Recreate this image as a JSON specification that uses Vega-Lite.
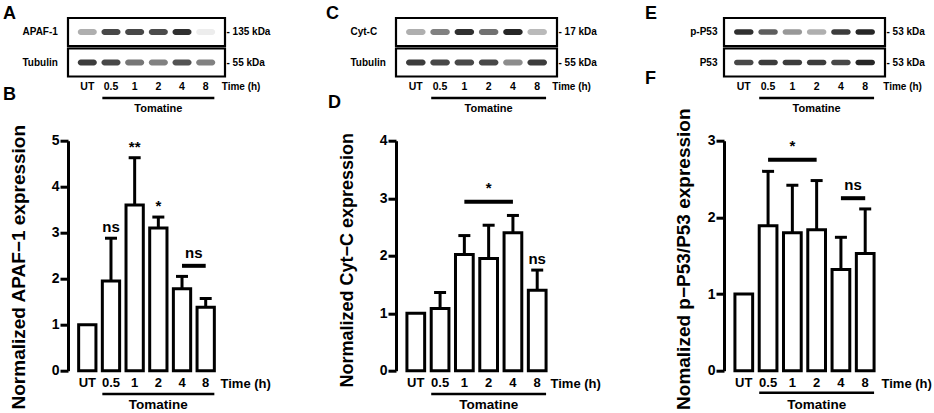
{
  "$schema": "https://vega.github.io/schema/vega-lite/v6.json",
  "padding": {"left": 3, "top": 4, "right": 0, "bottom": 0},
  "bounds": "flush",
  "spacing": 328,
  "config": {
    "view": {"stroke": null},
    "font": "Liberation Sans",
    "text": {"fontWeight": "bold", "color": "black"},
    "title": {"color": "black", "fontWeight": "bold", "fontSize": 18},
    "axis": {"labelColor": "black", "titleColor": "black", "domainColor": "black", "tickColor": "black", "labelFontWeight": "bold", "titleFontWeight": "bold", "grid": false}
  },
  "datasets": {
    "bars": [
      {"panel": "B", "time": "UT", "mean": 1.0},
      {"panel": "B", "time": "0.5", "mean": 1.95, "upper": 2.88},
      {"panel": "B", "time": "1", "mean": 3.6, "upper": 4.63},
      {"panel": "B", "time": "2", "mean": 3.1, "upper": 3.34},
      {"panel": "B", "time": "4", "mean": 1.78, "upper": 2.05},
      {"panel": "B", "time": "8", "mean": 1.38, "upper": 1.57},
      {"panel": "D", "time": "UT", "mean": 1.0},
      {"panel": "D", "time": "0.5", "mean": 1.08, "upper": 1.36},
      {"panel": "D", "time": "1", "mean": 2.02, "upper": 2.35},
      {"panel": "D", "time": "2", "mean": 1.95, "upper": 2.53},
      {"panel": "D", "time": "4", "mean": 2.4, "upper": 2.7},
      {"panel": "D", "time": "8", "mean": 1.4, "upper": 1.75},
      {"panel": "F", "time": "UT", "mean": 1.0},
      {"panel": "F", "time": "0.5", "mean": 1.89, "upper": 2.6},
      {"panel": "F", "time": "1", "mean": 1.8, "upper": 2.42},
      {"panel": "F", "time": "2", "mean": 1.84, "upper": 2.48},
      {"panel": "F", "time": "4", "mean": 1.32, "upper": 1.74},
      {"panel": "F", "time": "8", "mean": 1.53, "upper": 2.11}
    ],
    "marks": [
      {"panel": "B", "time": "0.5", "level": 3.13, "label": "ns"},
      {"panel": "B", "time": "1", "level": 4.87, "label": "**"},
      {"panel": "B", "time": "2", "level": 3.58, "label": "*"},
      {"panel": "D", "time": "8", "level": 1.95, "label": "ns"}
    ],
    "brackets": [
      {"panel": "B", "from": "4", "to": "8", "center": "4", "span": 2, "level": 2.28, "labelLevel": 2.55, "label": "ns"},
      {"panel": "D", "from": "1", "to": "4", "center": "2", "span": 3, "level": 2.94, "labelLevel": 3.17, "label": "*"},
      {"panel": "F", "from": "0.5", "to": "2", "center": "1", "span": 3, "level": 2.75, "labelLevel": 2.93, "label": "*"},
      {"panel": "F", "from": "4", "to": "8", "center": "4", "span": 2, "level": 2.25, "labelLevel": 2.42, "label": "ns"}
    ],
    "treatment": [
      {"label": "Tomatine", "from": "0.5", "to": "8", "mid": "2"}
    ],
    "blots": [
      {"panel": "A", "row": "APAF-1", "lane": "UT", "intensity": 0.35},
      {"panel": "A", "row": "APAF-1", "lane": "0.5", "intensity": 0.8},
      {"panel": "A", "row": "APAF-1", "lane": "1", "intensity": 0.8},
      {"panel": "A", "row": "APAF-1", "lane": "2", "intensity": 0.78},
      {"panel": "A", "row": "APAF-1", "lane": "4", "intensity": 0.9},
      {"panel": "A", "row": "APAF-1", "lane": "8", "intensity": 0.08},
      {"panel": "A", "row": "Tubulin", "lane": "UT", "intensity": 0.85},
      {"panel": "A", "row": "Tubulin", "lane": "0.5", "intensity": 0.8},
      {"panel": "A", "row": "Tubulin", "lane": "1", "intensity": 0.6},
      {"panel": "A", "row": "Tubulin", "lane": "2", "intensity": 0.55},
      {"panel": "A", "row": "Tubulin", "lane": "4", "intensity": 0.75},
      {"panel": "A", "row": "Tubulin", "lane": "8", "intensity": 0.55},
      {"panel": "C", "row": "Cyt-C", "lane": "UT", "intensity": 0.35},
      {"panel": "C", "row": "Cyt-C", "lane": "0.5", "intensity": 0.55},
      {"panel": "C", "row": "Cyt-C", "lane": "1", "intensity": 0.9},
      {"panel": "C", "row": "Cyt-C", "lane": "2", "intensity": 0.62},
      {"panel": "C", "row": "Cyt-C", "lane": "4", "intensity": 0.95},
      {"panel": "C", "row": "Cyt-C", "lane": "8", "intensity": 0.3},
      {"panel": "C", "row": "Tubulin", "lane": "UT", "intensity": 0.85},
      {"panel": "C", "row": "Tubulin", "lane": "0.5", "intensity": 0.8},
      {"panel": "C", "row": "Tubulin", "lane": "1", "intensity": 0.8},
      {"panel": "C", "row": "Tubulin", "lane": "2", "intensity": 0.8},
      {"panel": "C", "row": "Tubulin", "lane": "4", "intensity": 0.5},
      {"panel": "C", "row": "Tubulin", "lane": "8", "intensity": 0.85},
      {"panel": "E", "row": "p-P53", "lane": "UT", "intensity": 0.9},
      {"panel": "E", "row": "p-P53", "lane": "0.5", "intensity": 0.7},
      {"panel": "E", "row": "p-P53", "lane": "1", "intensity": 0.45},
      {"panel": "E", "row": "p-P53", "lane": "2", "intensity": 0.35},
      {"panel": "E", "row": "p-P53", "lane": "4", "intensity": 0.85},
      {"panel": "E", "row": "p-P53", "lane": "8", "intensity": 0.95},
      {"panel": "E", "row": "P53", "lane": "UT", "intensity": 0.8},
      {"panel": "E", "row": "P53", "lane": "0.5", "intensity": 0.85},
      {"panel": "E", "row": "P53", "lane": "1", "intensity": 0.85},
      {"panel": "E", "row": "P53", "lane": "2", "intensity": 0.85},
      {"panel": "E", "row": "P53", "lane": "4", "intensity": 0.8},
      {"panel": "E", "row": "P53", "lane": "8", "intensity": 0.95}
    ]
  },
  "hconcat": [
    {
      "bounds": "flush",
      "spacing": 33.7,
      "vconcat": [
        {
          "width": 157,
          "height": 89,
          "title": {"text": "A", "anchor": "start", "frame": "group", "offset": -6, "dx": -65},
          "resolve": {"axis": {"y": "independent"}},
          "layer": [
            {
              "data": {"name": "blots"},
              "transform": [{"filter": "datum.panel == 'A' && datum.lane == 'UT'"}],
              "mark": {"type": "rect", "fill": "white", "fillOpacity": 0, "stroke": "black", "strokeWidth": 2.2},
              "encoding": {
                "y": {"field": "row", "type": "nominal", "scale": {"domain": ["APAF-1", "Tubulin", "lanes"], "paddingInner": 0.08, "paddingOuter": 0},
                  "axis": {"orient": "left", "title": null, "domain": false, "ticks": false, "tickSize": 0, "labelFontSize": 10, "labelAlign": "left", "labelPadding": 46, "labelExpr": "datum.value == 'lanes' ? '' : datum.value"}}
              }
            },
            {
              "data": {"name": "blots"},
              "transform": [{"filter": "datum.panel == 'A'"}],
              "mark": {"type": "rect", "width": {"band": 1.1}, "height": {"band": 0.22}, "cornerRadius": 3, "fill": "#1a1a1a"},
              "encoding": {
                "x": {"field": "lane", "type": "nominal", "scale": {"domain": ["UT", "0.5", "1", "2", "4", "8"], "paddingInner": 0.27, "paddingOuter": 0.45}, "axis": null},
                "y": {"field": "row", "type": "nominal", "scale": {"domain": ["APAF-1", "Tubulin", "lanes"]},
                  "axis": {"orient": "right", "title": null, "domain": false, "ticks": false, "tickSize": 0, "labelFontSize": 10, "labelPadding": 1, "labelExpr": "datum.value == 'APAF-1' ? '- 135 kDa' : datum.value == 'Tubulin' ? '- 55 kDa' : ''"}},
                "opacity": {"field": "intensity", "type": "quantitative", "scale": {"domain": [0, 1], "range": [0, 1]}, "legend": null}
              }
            },
            {
              "data": {"name": "blots"},
              "transform": [{"filter": "datum.panel == 'A' && datum.row == 'APAF-1'"}],
              "mark": {"type": "text", "fontSize": 10.5, "baseline": "middle"},
              "encoding": {
                "x": {"field": "lane", "type": "nominal", "axis": null},
                "y": {"datum": "lanes", "type": "nominal", "bandPosition": 0.29, "axis": null},
                "text": {"field": "lane"}
              }
            },
            {
              "data": {"name": "treatment"},
              "mark": {"type": "text", "fontSize": 10, "baseline": "middle", "align": "left", "dx": 16},
              "encoding": {
                "x": {"field": "to", "type": "nominal", "axis": null},
                "y": {"datum": "lanes", "type": "nominal", "bandPosition": 0.29, "axis": null},
                "text": {"value": "Time (h)"}
              }
            },
            {
              "data": {"name": "treatment"},
              "mark": {"type": "rule", "stroke": "black", "strokeWidth": 2.5},
              "encoding": {
                "x": {"field": "from", "type": "nominal", "bandPosition": 0, "axis": null},
                "x2": {"field": "to", "bandPosition": 1},
                "y": {"datum": "lanes", "type": "nominal", "bandPosition": 0.68, "axis": null}
              }
            },
            {
              "data": {"name": "treatment"},
              "mark": {"type": "text", "fontSize": 11, "baseline": "top"},
              "encoding": {
                "x": {"field": "mid", "type": "nominal", "axis": null},
                "y": {"datum": "lanes", "type": "nominal", "bandPosition": 0.84, "axis": null},
                "text": {"field": "label"}
              }
            }
          ]
        },
        {
          "width": 157,
          "height": 230,
          "title": {"text": "B", "anchor": "start", "frame": "group", "offset": 20, "dx": -65},
          "layer": [
            {
              "data": {"name": "bars"},
              "transform": [{"filter": "datum.panel == 'B'"}],
              "mark": {"type": "bar", "fill": "white", "stroke": "black", "strokeWidth": 3},
              "encoding": {
                "x": {"field": "time", "type": "nominal", "scale": {"domain": ["UT", "0.5", "1", "2", "4", "8"], "paddingInner": 0.27, "paddingOuter": 0.45},
                  "axis": {"domain": false, "ticks": false, "labelFontSize": 13, "labelPadding": 6, "labelAngle": 0, "title": "Time (h)", "titleFontSize": 13, "titleAngle": 0, "titleAlign": "left", "titleBaseline": "middle", "titleX": 152, "titleY": 12.5}},
                "y": {"field": "mean", "type": "quantitative", "scale": {"domain": [0, 5], "nice": false},
                  "axis": {"values": [0, 1, 2, 3, 4, 5], "format": "d", "domainWidth": 3, "tickWidth": 3, "tickSize": 8, "labelFontSize": 14, "labelPadding": 1, "title": "Normalized APAF−1 expression", "titleFontSize": 19, "titleAngle": -90, "titleAlign": "center", "titleBaseline": "alphabetic", "titleX": -44, "titleY": 126}}
              }
            },
            {
              "data": {"name": "bars"},
              "transform": [{"filter": "datum.panel == 'B' && isValid(datum.upper)"}],
              "mark": {"type": "rule", "stroke": "black", "strokeWidth": 3},
              "encoding": {
                "x": {"field": "time", "type": "nominal"},
                "y": {"field": "mean", "type": "quantitative"},
                "y2": {"field": "upper"}
              }
            },
            {
              "data": {"name": "bars"},
              "transform": [{"filter": "datum.panel == 'B' && isValid(datum.upper)"}],
              "mark": {"type": "tick", "color": "black", "opacity": 1, "thickness": 3, "size": 12, "orient": "horizontal"},
              "encoding": {
                "x": {"field": "time", "type": "nominal"},
                "y": {"field": "upper", "type": "quantitative"}
              }
            },
            {
              "data": {"name": "marks"},
              "transform": [{"filter": "datum.panel == 'B'"}],
              "mark": {"type": "text", "fontSize": 15, "baseline": "middle"},
              "encoding": {
                "x": {"field": "time", "type": "nominal"},
                "y": {"field": "level", "type": "quantitative"},
                "text": {"field": "label"}
              }
            },
            {
              "data": {"name": "brackets"},
              "transform": [{"filter": "datum.panel == 'B'"}],
              "mark": {"type": "rule", "stroke": "black", "strokeWidth": 4},
              "encoding": {
                "x": {"field": "from", "type": "nominal"},
                "x2": {"field": "to"},
                "y": {"field": "level", "type": "quantitative"}
              }
            },
            {
              "data": {"name": "brackets"},
              "transform": [{"filter": "datum.panel == 'B' && datum.span == 2"}],
              "mark": {"type": "text", "fontSize": 15, "baseline": "middle"},
              "encoding": {
                "x": {"field": "center", "type": "nominal", "bandPosition": 1.185},
                "y": {"field": "labelLevel", "type": "quantitative"},
                "text": {"field": "label"}
              }
            },
            {
              "data": {"name": "treatment"},
              "mark": {"type": "rule", "stroke": "black", "strokeWidth": 2.5},
              "encoding": {
                "x": {"field": "from", "type": "nominal", "bandPosition": 0},
                "x2": {"field": "to", "bandPosition": 1},
                "y": {"datum": -0.506}
              }
            },
            {
              "data": {"name": "treatment"},
              "mark": {"type": "text", "fontSize": 13.5, "baseline": "middle"},
              "encoding": {
                "x": {"field": "mid", "type": "nominal"},
                "y": {"datum": -0.746},
                "text": {"field": "label"}
              }
            }
          ]
        }
      ]
    },
    {
      "bounds": "flush",
      "spacing": 33.7,
      "vconcat": [
        {
          "width": 161,
          "height": 89,
          "title": {"text": "C", "anchor": "start", "frame": "group", "offset": -6, "dx": -70},
          "resolve": {"axis": {"y": "independent"}},
          "layer": [
            {
              "data": {"name": "blots"},
              "transform": [{"filter": "datum.panel == 'C' && datum.lane == 'UT'"}],
              "mark": {"type": "rect", "fill": "white", "fillOpacity": 0, "stroke": "black", "strokeWidth": 2.2},
              "encoding": {
                "y": {"field": "row", "type": "nominal", "scale": {"domain": ["Cyt-C", "Tubulin", "lanes"], "paddingInner": 0.08, "paddingOuter": 0},
                  "axis": {"orient": "left", "title": null, "domain": false, "ticks": false, "tickSize": 0, "labelFontSize": 10, "labelAlign": "left", "labelPadding": 46, "labelExpr": "datum.value == 'lanes' ? '' : datum.value"}}
              }
            },
            {
              "data": {"name": "blots"},
              "transform": [{"filter": "datum.panel == 'C'"}],
              "mark": {"type": "rect", "width": {"band": 1.1}, "height": {"band": 0.22}, "cornerRadius": 3, "fill": "#1a1a1a"},
              "encoding": {
                "x": {"field": "lane", "type": "nominal", "scale": {"domain": ["UT", "0.5", "1", "2", "4", "8"], "paddingInner": 0.27, "paddingOuter": 0.45}, "axis": null},
                "y": {"field": "row", "type": "nominal", "scale": {"domain": ["Cyt-C", "Tubulin", "lanes"]},
                  "axis": {"orient": "right", "title": null, "domain": false, "ticks": false, "tickSize": 0, "labelFontSize": 10, "labelPadding": 1, "labelExpr": "datum.value == 'Cyt-C' ? '- 17 kDa' : datum.value == 'Tubulin' ? '- 55 kDa' : ''"}},
                "opacity": {"field": "intensity", "type": "quantitative", "scale": {"domain": [0, 1], "range": [0, 1]}, "legend": null}
              }
            },
            {
              "data": {"name": "blots"},
              "transform": [{"filter": "datum.panel == 'C' && datum.row == 'Cyt-C'"}],
              "mark": {"type": "text", "fontSize": 10.5, "baseline": "middle"},
              "encoding": {
                "x": {"field": "lane", "type": "nominal", "axis": null},
                "y": {"datum": "lanes", "type": "nominal", "bandPosition": 0.29, "axis": null},
                "text": {"field": "lane"}
              }
            },
            {
              "data": {"name": "treatment"},
              "mark": {"type": "text", "fontSize": 10, "baseline": "middle", "align": "left", "dx": 15},
              "encoding": {
                "x": {"field": "to", "type": "nominal", "axis": null},
                "y": {"datum": "lanes", "type": "nominal", "bandPosition": 0.29, "axis": null},
                "text": {"value": "Time (h)"}
              }
            },
            {
              "data": {"name": "treatment"},
              "mark": {"type": "rule", "stroke": "black", "strokeWidth": 2.5},
              "encoding": {
                "x": {"field": "from", "type": "nominal", "bandPosition": 0, "axis": null},
                "x2": {"field": "to", "bandPosition": 1},
                "y": {"datum": "lanes", "type": "nominal", "bandPosition": 0.68, "axis": null}
              }
            },
            {
              "data": {"name": "treatment"},
              "mark": {"type": "text", "fontSize": 11, "baseline": "top"},
              "encoding": {
                "x": {"field": "mid", "type": "nominal", "axis": null},
                "y": {"datum": "lanes", "type": "nominal", "bandPosition": 0.84, "axis": null},
                "text": {"field": "label"}
              }
            }
          ]
        },
        {
          "width": 161,
          "height": 230,
          "title": {"text": "D", "anchor": "start", "frame": "group", "offset": 20, "dx": -68},
          "layer": [
            {
              "data": {"name": "bars"},
              "transform": [{"filter": "datum.panel == 'D'"}],
              "mark": {"type": "bar", "fill": "white", "stroke": "black", "strokeWidth": 3},
              "encoding": {
                "x": {"field": "time", "type": "nominal", "scale": {"domain": ["UT", "0.5", "1", "2", "4", "8"], "paddingInner": 0.27, "paddingOuter": 0.45},
                  "axis": {"domain": false, "ticks": false, "labelFontSize": 13, "labelPadding": 6, "labelAngle": 0, "title": "Time (h)", "titleFontSize": 13, "titleAngle": 0, "titleAlign": "left", "titleBaseline": "middle", "titleX": 154, "titleY": 12.5}},
                "y": {"field": "mean", "type": "quantitative", "scale": {"domain": [0, 4], "nice": false},
                  "axis": {"values": [0, 1, 2, 3, 4], "format": "d", "domainWidth": 3, "tickWidth": 3, "tickSize": 8, "labelFontSize": 14, "labelPadding": 1, "title": "Normalized Cyt−C expression", "titleFontSize": 18, "titleAngle": -90, "titleAlign": "center", "titleBaseline": "alphabetic", "titleX": -44, "titleY": 119}}
              }
            },
            {
              "data": {"name": "bars"},
              "transform": [{"filter": "datum.panel == 'D' && isValid(datum.upper)"}],
              "mark": {"type": "rule", "stroke": "black", "strokeWidth": 3},
              "encoding": {
                "x": {"field": "time", "type": "nominal"},
                "y": {"field": "mean", "type": "quantitative"},
                "y2": {"field": "upper"}
              }
            },
            {
              "data": {"name": "bars"},
              "transform": [{"filter": "datum.panel == 'D' && isValid(datum.upper)"}],
              "mark": {"type": "tick", "color": "black", "opacity": 1, "thickness": 3, "size": 12, "orient": "horizontal"},
              "encoding": {
                "x": {"field": "time", "type": "nominal"},
                "y": {"field": "upper", "type": "quantitative"}
              }
            },
            {
              "data": {"name": "marks"},
              "transform": [{"filter": "datum.panel == 'D'"}],
              "mark": {"type": "text", "fontSize": 15, "baseline": "middle"},
              "encoding": {
                "x": {"field": "time", "type": "nominal"},
                "y": {"field": "level", "type": "quantitative"},
                "text": {"field": "label"}
              }
            },
            {
              "data": {"name": "brackets"},
              "transform": [{"filter": "datum.panel == 'D'"}],
              "mark": {"type": "rule", "stroke": "black", "strokeWidth": 4},
              "encoding": {
                "x": {"field": "from", "type": "nominal"},
                "x2": {"field": "to"},
                "y": {"field": "level", "type": "quantitative"}
              }
            },
            {
              "data": {"name": "brackets"},
              "transform": [{"filter": "datum.panel == 'D' && datum.span == 3"}],
              "mark": {"type": "text", "fontSize": 15, "baseline": "middle"},
              "encoding": {
                "x": {"field": "center", "type": "nominal"},
                "y": {"field": "labelLevel", "type": "quantitative"},
                "text": {"field": "label"}
              }
            },
            {
              "data": {"name": "treatment"},
              "mark": {"type": "rule", "stroke": "black", "strokeWidth": 2.5},
              "encoding": {
                "x": {"field": "from", "type": "nominal", "bandPosition": 0},
                "x2": {"field": "to", "bandPosition": 1},
                "y": {"datum": -0.405}
              }
            },
            {
              "data": {"name": "treatment"},
              "mark": {"type": "text", "fontSize": 13.5, "baseline": "middle"},
              "encoding": {
                "x": {"field": "mid", "type": "nominal"},
                "y": {"datum": -0.597},
                "text": {"field": "label"}
              }
            }
          ]
        }
      ]
    },
    {
      "bounds": "flush",
      "spacing": 33.7,
      "vconcat": [
        {
          "width": 161,
          "height": 89,
          "title": {"text": "E", "anchor": "start", "frame": "group", "offset": -6, "dx": -79},
          "resolve": {"axis": {"y": "independent"}},
          "layer": [
            {
              "data": {"name": "blots"},
              "transform": [{"filter": "datum.panel == 'E' && datum.lane == 'UT'"}],
              "mark": {"type": "rect", "fill": "white", "fillOpacity": 0, "stroke": "black", "strokeWidth": 2.2},
              "encoding": {
                "y": {"field": "row", "type": "nominal", "scale": {"domain": ["p-P53", "P53", "lanes"], "paddingInner": 0.08, "paddingOuter": 0},
                  "axis": {"orient": "left", "title": null, "domain": false, "ticks": false, "tickSize": 0, "labelFontSize": 10, "labelAlign": "right", "labelPadding": 7, "labelExpr": "datum.value == 'lanes' ? '' : datum.value"}}
              }
            },
            {
              "data": {"name": "blots"},
              "transform": [{"filter": "datum.panel == 'E'"}],
              "mark": {"type": "rect", "width": {"band": 1.1}, "height": {"band": 0.2}, "cornerRadius": 3, "fill": "#1a1a1a"},
              "encoding": {
                "x": {"field": "lane", "type": "nominal", "scale": {"domain": ["UT", "0.5", "1", "2", "4", "8"], "paddingInner": 0.27, "paddingOuter": 0.45}, "axis": null},
                "y": {"field": "row", "type": "nominal", "scale": {"domain": ["p-P53", "P53", "lanes"]},
                  "axis": {"orient": "right", "title": null, "domain": false, "ticks": false, "tickSize": 0, "labelFontSize": 10, "labelPadding": 1, "labelExpr": "datum.value == 'lanes' ? '' : '- 53 kDa'"}},
                "opacity": {"field": "intensity", "type": "quantitative", "scale": {"domain": [0, 1], "range": [0, 1]}, "legend": null}
              }
            },
            {
              "data": {"name": "blots"},
              "transform": [{"filter": "datum.panel == 'E' && datum.row == 'P53'"}],
              "mark": {"type": "text", "fontSize": 10.5, "baseline": "middle"},
              "encoding": {
                "x": {"field": "lane", "type": "nominal", "axis": null},
                "y": {"datum": "lanes", "type": "nominal", "bandPosition": 0.29, "axis": null},
                "text": {"field": "lane"}
              }
            },
            {
              "data": {"name": "treatment"},
              "mark": {"type": "text", "fontSize": 10, "baseline": "middle", "align": "left", "dx": 18},
              "encoding": {
                "x": {"field": "to", "type": "nominal", "axis": null},
                "y": {"datum": "lanes", "type": "nominal", "bandPosition": 0.29, "axis": null},
                "text": {"value": "Time (h)"}
              }
            },
            {
              "data": {"name": "treatment"},
              "mark": {"type": "rule", "stroke": "black", "strokeWidth": 2.5},
              "encoding": {
                "x": {"field": "from", "type": "nominal", "bandPosition": 0, "axis": null},
                "x2": {"field": "to", "bandPosition": 1},
                "y": {"datum": "lanes", "type": "nominal", "bandPosition": 0.68, "axis": null}
              }
            },
            {
              "data": {"name": "treatment"},
              "mark": {"type": "text", "fontSize": 11, "baseline": "top"},
              "encoding": {
                "x": {"field": "mid", "type": "nominal", "axis": null},
                "y": {"datum": "lanes", "type": "nominal", "bandPosition": 0.84, "axis": null},
                "text": {"field": "label"}
              }
            }
          ]
        },
        {
          "width": 161,
          "height": 230,
          "title": {"text": "F", "anchor": "start", "frame": "group", "offset": 20, "dx": -79},
          "layer": [
            {
              "data": {"name": "bars"},
              "transform": [{"filter": "datum.panel == 'F'"}],
              "mark": {"type": "bar", "fill": "white", "stroke": "black", "strokeWidth": 3},
              "encoding": {
                "x": {"field": "time", "type": "nominal", "scale": {"domain": ["UT", "0.5", "1", "2", "4", "8"], "paddingInner": 0.27, "paddingOuter": 0.45},
                  "axis": {"domain": false, "ticks": false, "labelFontSize": 13, "labelPadding": 6, "labelAngle": 0, "title": "Time (h)", "titleFontSize": 13, "titleAngle": 0, "titleAlign": "left", "titleBaseline": "middle", "titleX": 157, "titleY": 12.5}},
                "y": {"field": "mean", "type": "quantitative", "scale": {"domain": [0, 3], "nice": false},
                  "axis": {"values": [0, 1, 2, 3], "format": "d", "domainWidth": 3, "tickWidth": 3, "tickSize": 8, "labelFontSize": 14, "labelPadding": 1, "title": "Nomalized p−P53/P53 expression", "titleFontSize": 19, "titleAngle": -90, "titleAlign": "center", "titleBaseline": "alphabetic", "titleX": -35, "titleY": 118}}
              }
            },
            {
              "data": {"name": "bars"},
              "transform": [{"filter": "datum.panel == 'F' && isValid(datum.upper)"}],
              "mark": {"type": "rule", "stroke": "black", "strokeWidth": 3},
              "encoding": {
                "x": {"field": "time", "type": "nominal"},
                "y": {"field": "mean", "type": "quantitative"},
                "y2": {"field": "upper"}
              }
            },
            {
              "data": {"name": "bars"},
              "transform": [{"filter": "datum.panel == 'F' && isValid(datum.upper)"}],
              "mark": {"type": "tick", "color": "black", "opacity": 1, "thickness": 3, "size": 12, "orient": "horizontal"},
              "encoding": {
                "x": {"field": "time", "type": "nominal"},
                "y": {"field": "upper", "type": "quantitative"}
              }
            },
            {
              "data": {"name": "brackets"},
              "transform": [{"filter": "datum.panel == 'F'"}],
              "mark": {"type": "rule", "stroke": "black", "strokeWidth": 4},
              "encoding": {
                "x": {"field": "from", "type": "nominal"},
                "x2": {"field": "to"},
                "y": {"field": "level", "type": "quantitative"}
              }
            },
            {
              "data": {"name": "brackets"},
              "transform": [{"filter": "datum.panel == 'F' && datum.span == 3"}],
              "mark": {"type": "text", "fontSize": 15, "baseline": "middle"},
              "encoding": {
                "x": {"field": "center", "type": "nominal"},
                "y": {"field": "labelLevel", "type": "quantitative"},
                "text": {"field": "label"}
              }
            },
            {
              "data": {"name": "brackets"},
              "transform": [{"filter": "datum.panel == 'F' && datum.span == 2"}],
              "mark": {"type": "text", "fontSize": 15, "baseline": "middle"},
              "encoding": {
                "x": {"field": "center", "type": "nominal", "bandPosition": 1.185},
                "y": {"field": "labelLevel", "type": "quantitative"},
                "text": {"field": "label"}
              }
            },
            {
              "data": {"name": "treatment"},
              "mark": {"type": "rule", "stroke": "black", "strokeWidth": 2.5},
              "encoding": {
                "x": {"field": "from", "type": "nominal", "bandPosition": 0},
                "x2": {"field": "to", "bandPosition": 1},
                "y": {"datum": -0.287}
              }
            },
            {
              "data": {"name": "treatment"},
              "mark": {"type": "text", "fontSize": 13.5, "baseline": "middle"},
              "encoding": {
                "x": {"field": "mid", "type": "nominal"},
                "y": {"datum": -0.447},
                "text": {"field": "label"}
              }
            }
          ]
        }
      ]
    }
  ]
}
